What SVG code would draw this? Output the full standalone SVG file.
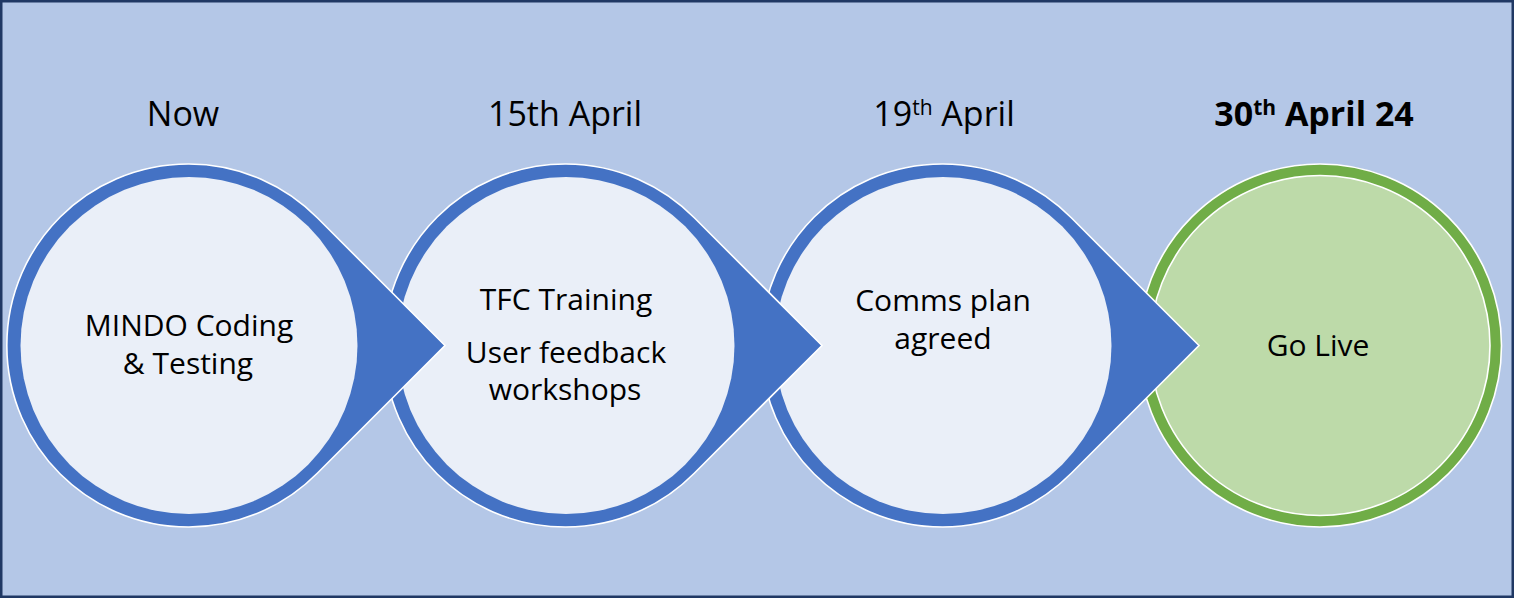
<svg xmlns="http://www.w3.org/2000/svg" width="1514" height="598" viewBox="0 0 1514 598">
<style>
.bg{fill:#b4c7e7;stroke:#203864;stroke-width:2.5}
.drop{fill:#4472c4;stroke:#ffffff;stroke-width:1.6}
.inner{fill:#eaeff8}
.gring{fill:#70ad47;stroke:#ffffff;stroke-width:1.6}
.gfill{fill:#bddaa9;stroke:#ffffff;stroke-width:1.6}
text{font-family:"Open Sans","Noto Sans","DejaVu Sans",sans-serif;fill:#000000;text-anchor:middle}
.date{font-size:34px}
.body{font-size:30px}
.sup{font-size:21px}
</style>
<rect class="bg" x="1.25" y="1.25" width="1511.5" height="595.5"/>
<g id="connectors"></g>
<g id="node4">
  <circle class="gring" cx="1320" cy="345.5" r="181.5"/>
  <circle class="gfill" cx="1320" cy="345.5" r="170"/>
  <text class="body" x="1318" y="356">Go Live</text>
  <text class="date" x="1314" y="126" font-weight="bold">30<tspan class="sup" dy="-11">th</tspan><tspan dy="11"> April 24</tspan></text>
</g>
<g id="node3">
  <path class="drop" d="M1199,345.5 L1071.3,217.8 A181.5,181.5 0 1 0 1071.3,473.2 Z"/>
  <circle class="inner" cx="943" cy="345.5" r="168.5"/>
  <text class="body" x="943" y="311">Comms plan</text>
  <text class="body" x="943" y="349">agreed</text>
  <text class="date" x="944" y="126">19<tspan class="sup" dy="-11">th</tspan><tspan dy="11"> April</tspan></text>
</g>
<g id="node2">
  <path class="drop" d="M822,345.5 L694.3,217.8 A181.5,181.5 0 1 0 694.3,473.2 Z"/>
  <circle class="inner" cx="566" cy="345.5" r="168.5"/>
  <text class="body" x="566" y="310">TFC Training</text>
  <text class="body" x="566" y="363">User feedback</text>
  <text class="body" x="565" y="400">workshops</text>
  <text class="date" x="565" y="126">15th April</text>
</g>
<g id="node1">
  <path class="drop" d="M445,345.5 L317.3,217.8 A181.5,181.5 0 1 0 317.3,473.2 Z"/>
  <circle class="inner" cx="189" cy="345.5" r="168.5"/>
  <text class="body" x="189" y="336">MINDO Coding</text>
  <text class="body" x="188" y="374">&amp; Testing</text>
  <text class="date" x="183" y="126">Now</text>
</g>
</svg>
